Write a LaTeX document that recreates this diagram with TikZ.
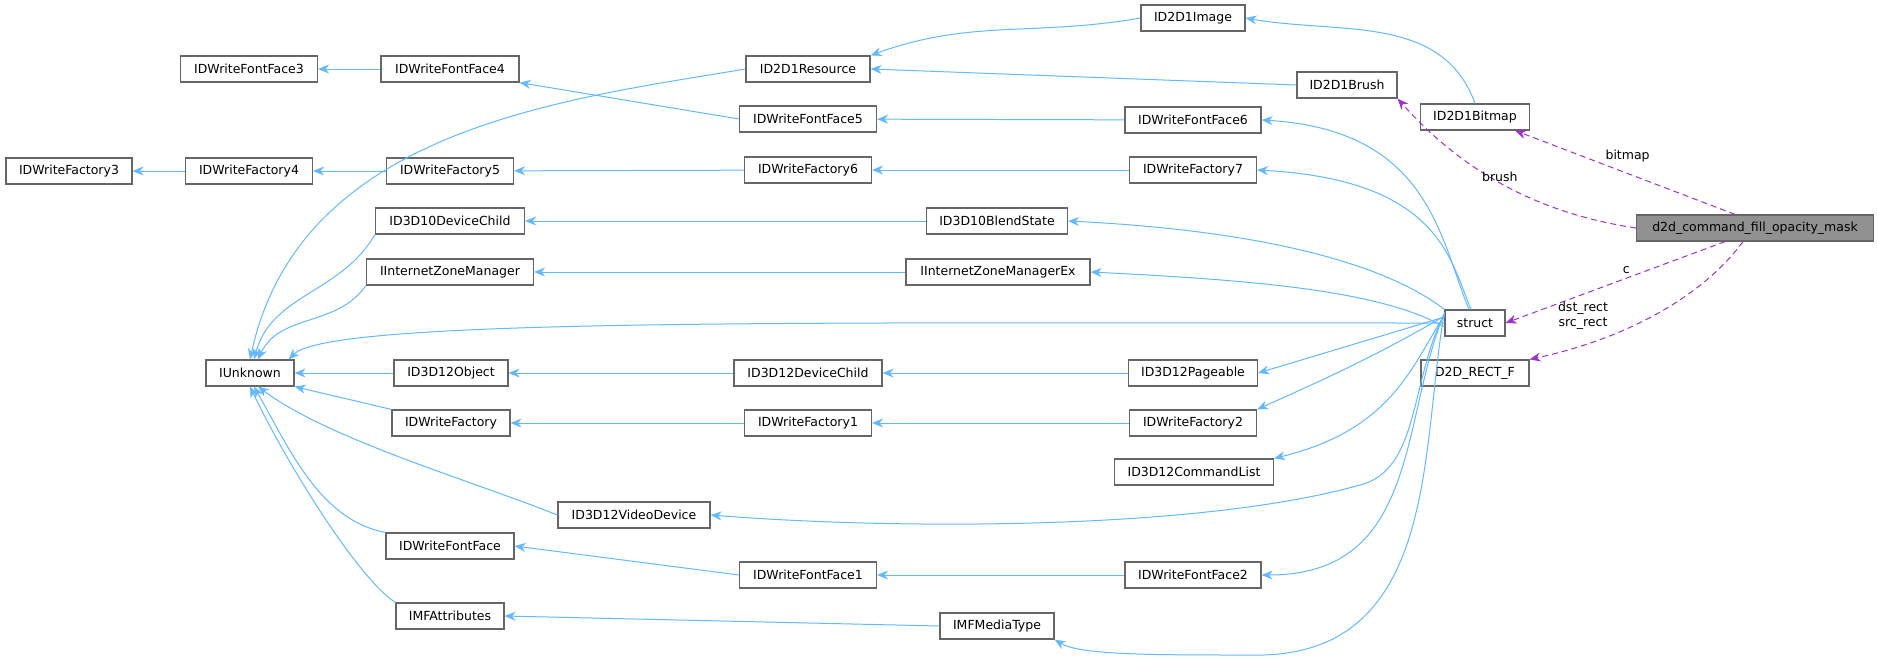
\documentclass[tikz,border=0pt]{standalone}
\usepackage{fontspec}
\setmainfont{DejaVu Sans}
\usetikzlibrary{arrows.meta}
\definecolor{edgeblue}{HTML}{63B8FF}
\definecolor{edgepurple}{HTML}{9A32CD}
\definecolor{boxgray}{HTML}{666666}
\begin{document}
\begin{tikzpicture}[x=1pt,y=-1pt,
  box/.style={draw=boxgray,line width=1.2pt,fill=white,inner sep=0pt,minimum height=26pt,font=\fontsize{12.5}{14}\selectfont},
  inh/.style={draw=edgeblue,line width=1pt,-{Stealth[length=11pt,width=9pt]}},
  use/.style={draw=edgepurple,line width=1pt,dashed,dash pattern=on 6pt off 4pt,-{Stealth[length=11pt,width=9pt]}},
  lab/.style={font=\fontsize{12.5}{14}\selectfont,inner sep=0pt}]
\useasboundingbox (0,0) rectangle (1877,657);
% nodes
\node[box,minimum width=126pt] (wf3) at (69,171) {IDWriteFactory3};
\node[box,minimum width=127pt] (wf4) at (249,171) {IDWriteFactory4};
\node[box,minimum width=137pt] (ff3) at (249,69) {IDWriteFontFace3};
\node[box,minimum width=138pt] (ff4) at (450,69) {IDWriteFontFace4};
\node[box,minimum width=127pt] (wf5) at (450,171) {IDWriteFactory5};
\node[box,minimum width=124pt] (res) at (808,69) {ID2D1Resource};
\node[box,minimum width=137pt] (ff5) at (808,119) {IDWriteFontFace5};
\node[box,minimum width=127pt] (wf6) at (808,170) {IDWriteFactory6};
\node[box,minimum width=104pt] (img) at (1193,18) {ID2D1Image};
\node[box,minimum width=100pt] (brush) at (1347,85) {ID2D1Brush};
\node[box,minimum width=109pt] (bmp) at (1475,117) {ID2D1Bitmap};
\node[box,minimum width=136pt] (ff6) at (1193,120) {IDWriteFontFace6};
\node[box,minimum width=127pt] (wf7) at (1193,170) {IDWriteFactory7};
\node[box,minimum width=149pt] (dc10) at (450,221) {ID3D10DeviceChild};
\node[box,minimum width=141pt] (bs) at (997,221) {ID3D10BlendState};
\node[box,minimum width=167pt] (izm) at (450,272) {IInternetZoneManager};
\node[box,minimum width=184pt] (izmx) at (998,272) {IInternetZoneManagerEx};
\node[box,minimum width=237pt,fill=black!43] (main) at (1755,228) {d2d\_command\_fill\_opacity\_mask};
\node[box,minimum width=60pt] (st) at (1475,323) {struct};
\node[box,minimum width=108pt] (rect) at (1475,373) {D2D\_RECT\_F};
\node[box,minimum width=88pt] (unk) at (250,373) {IUnknown};
\node[box,minimum width=114pt] (o12) at (451,373) {ID3D12Object};
\node[box,minimum width=148pt] (dc12) at (808,373) {ID3D12DeviceChild};
\node[box,minimum width=129pt] (pg) at (1193,373) {ID3D12Pageable};
\node[box,minimum width=118pt] (wf) at (451,423) {IDWriteFactory};
\node[box,minimum width=127pt] (wf1) at (808,423) {IDWriteFactory1};
\node[box,minimum width=127pt] (wf2) at (1193,423) {IDWriteFactory2};
\node[box,minimum width=159pt] (cl) at (1194,472) {ID3D12CommandList};
\node[box,minimum width=152pt] (vd) at (634,515) {ID3D12VideoDevice};
\node[box,minimum width=128pt] (ff) at (450,546) {IDWriteFontFace};
\node[box,minimum width=137pt] (ff1) at (808,575) {IDWriteFontFace1};
\node[box,minimum width=136pt] (ff2) at (1193,575) {IDWriteFontFace2};
\node[box,minimum width=108pt] (mfa) at (450,616) {IMFAttributes};
\node[box,minimum width=114pt] (mfm) at (997,626) {IMFMediaType};
% chains
\draw[inh] (wf4) -- (wf3);
\draw[inh] (wf5) -- (wf4);
\draw[inh] (wf6) -- (wf5);
\draw[inh] (wf7) -- (wf6);
\draw[inh] (ff4) -- (ff3);
\draw[inh] (ff5.west) -- (ff4.south east);
\draw[inh] (ff6) -- (ff5);
\draw[inh] (img.west) to[out=190,in=20] (res.north east);
\draw[inh] (brush.west) -- (res.east);
\draw[inh] (bmp.north) to[out=110,in=-10] (img.east);
\draw[inh] (bs) -- (dc10);
\draw[inh] (izmx) -- (izm);
\draw[inh] (dc12) -- (o12);
\draw[inh] (pg) -- (dc12);
\draw[inh] (wf1) -- (wf);
\draw[inh] (wf2) -- (wf1);
\draw[inh] (ff1.west) -- (ff.east);
\draw[inh] (ff2) -- (ff1);
\draw[inh] (mfm.west) -- (mfa.east);
% to IUnknown
\draw[inh] (res.west) .. controls (560,100) and (300,130) .. (unk.north);
\draw[inh] (dc10.south west) to[out=240,in=75] ([xshift=4pt]unk.north);
\draw[inh] (izm.south west) to[out=235,in=65] ([xshift=8pt]unk.north);
\draw[inh] (st.west) .. controls (800,323) and (330,318) .. ([xshift=-6pt]unk.north east);
\draw[inh] (o12) -- (unk);
\draw[inh] (wf.north west) -- (unk.south east);
\draw[inh] (vd.west) .. controls (470,480) and (330,440) .. ([xshift=8pt]unk.south);
\draw[inh] (ff.north west) .. controls (320,520) and (290,450) .. ([xshift=4pt]unk.south);
\draw[inh] (mfa.north west) .. controls (360,580) and (290,470) .. (unk.south);
% from struct
\draw[inh] ([xshift=-6pt]st.north) .. controls (1440,240) and (1430,130) .. (ff6.east);
\draw[inh] ([xshift=-4pt]st.north) .. controls (1450,260) and (1440,180) .. (wf7.east);
\draw[inh] (st.north west) .. controls (1380,260) and (1250,230) .. (bs.east);
\draw[inh] ([yshift=-4pt]st.west) .. controls (1380,290) and (1250,280) .. (izmx.east);
\draw[inh] ([yshift=6pt]st.west) -- (pg.east);
\draw[inh] ([yshift=7pt]st.west) .. controls (1370,360) and (1300,390) .. (wf2.north east);
\draw[inh] ([yshift=8pt]st.west) .. controls (1410,370) and (1390,430) .. (cl.north east);
\draw[inh] ([yshift=9pt]st.west) .. controls (1410,380) and (1420,470) .. (1360,485) .. controls (1200,530) and (900,530) .. (vd.east);
\draw[inh] ([yshift=10pt]st.west) .. controls (1400,420) and (1420,575) .. (ff2.east);
\draw[inh] ([yshift=11pt]st.west) .. controls (1420,450) and (1440,660) .. (1250,655) .. controls (1150,655) and (1080,655) .. (mfm.south east);
% uses
\draw[use] (main.west) .. controls (1550,215) and (1470,180) .. (brush.south east) node[pos=0.55,lab,above] {brush};
\draw[use] ([xshift=-20pt]main.north) -- ([xshift=-15pt]bmp.south east) node[pos=0.6,lab,above right=2pt] {bitmap};
\draw[use] ([xshift=-30pt]main.south) -- (st.east) node[pos=0.45,lab,above=4pt] {c};
\draw[use] ([xshift=-12pt]main.south) .. controls (1700,300) and (1620,340) .. (rect.north east);
\node[lab,align=center,font=\fontsize{12.5}{15}\selectfont] (dl) at (1583,316) {dst\_rect\\src\_rect};
\end{tikzpicture}
\end{document}
